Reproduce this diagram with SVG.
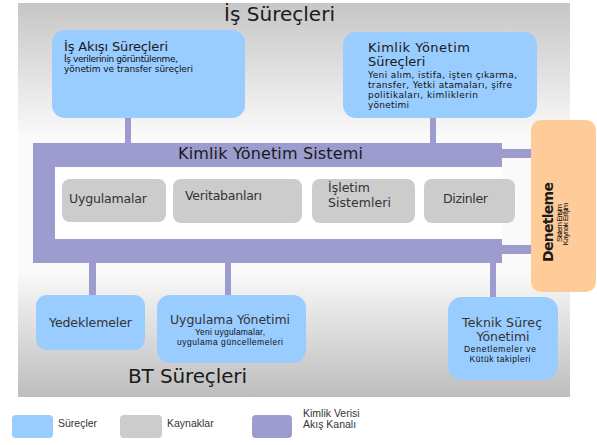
<svg xmlns="http://www.w3.org/2000/svg" width="597" height="445" viewBox="0 0 597 445">
<defs>
<linearGradient id="bg" x1="0" y1="0" x2="0" y2="1">
<stop offset="0" stop-color="#c6c6c6"/>
<stop offset="0.34" stop-color="#fafafa"/>
<stop offset="0.68" stop-color="#fafafa"/>
<stop offset="1" stop-color="#bdbdbd"/>
</linearGradient>
<style>
.proc{fill:#99ccff}
.res{fill:#cccccc}
.chan{fill:#9c9ccf}
.aud{fill:#ffcc99}
text{font-family:"DejaVu Sans",Verdana,sans-serif;fill:#1a1a1a}
.big{font-size:20px}
.t13{font-size:13px}
.t12{font-size:12.5px;fill:#333}
.sub{font-size:9px;fill:#111}
.leg{font-family:"Liberation Sans",Arial,sans-serif;font-size:10.5px;fill:#333}
.lsub{font-family:"Liberation Sans",Arial,sans-serif;font-size:8.5px;fill:#111}
.tiny{font-family:"Liberation Sans",Arial,sans-serif;font-size:8px;fill:#111}
</style>
</defs>
<rect x="18" y="3" width="552" height="394" fill="url(#bg)"/>
<text class="big" x="224" y="21" textLength="111">İş Süreçleri</text>
<text class="big" x="128" y="383" textLength="119">BT Süreçleri</text>

<g id="connectors">
<rect class="chan" x="125" y="116" width="6" height="28"/>
<rect class="chan" x="430" y="116" width="6" height="28"/>
<rect class="chan" x="103" y="166" width="6" height="14"/>
<rect class="chan" x="460" y="166" width="6" height="14"/>
<rect class="chan" x="233" y="222" width="7" height="18"/>
<rect class="chan" x="364" y="222" width="6" height="18"/>
<rect class="chan" x="501" y="149" width="31" height="9"/>
<rect class="chan" x="501" y="245" width="31" height="9"/>
<rect class="chan" x="89" y="262" width="7" height="34"/>
<rect class="chan" x="225" y="262" width="6" height="34"/>
<rect class="chan" x="490" y="262" width="6" height="36"/>
</g>

<g id="kimlik-yonetim-sistemi">
<path class="chan" d="M33,143 H502 V167 H55 V239 H502 V263 H33 Z"/>
<rect x="55" y="167" width="447" height="72" fill="#ffffff"/>
<text x="178" y="159" font-size="16px" textLength="185">Kimlik Yönetim Sistemi</text>
</g>

<g id="is-akisi">
<rect class="proc" x="52" y="30" width="193" height="88" rx="13"/>
<text class="t13" x="64" y="51" textLength="104">İş Akışı Süreçleri</text>
<text class="sub" x="64" y="62" textLength="114">İş verilerinin görüntülenme,</text>
<text class="sub" x="64" y="72" textLength="129">yönetim ve transfer süreçleri</text>
</g>

<g id="kimlik-yonetim-surecleri">
<rect class="proc" x="343" y="32" width="194" height="86" rx="13"/>
<text class="t13" x="368" y="52" textLength="102">Kimlik Yönetim</text>
<text class="t13" x="368" y="65.5">Süreçleri</text>
<text class="sub" x="368" y="78" textLength="149">Yeni alım, istifa, işten çıkarma,</text>
<text class="sub" x="368" y="88" textLength="144">transfer, Yetki atamaları, şifre</text>
<text class="sub" x="368" y="98" textLength="110">politikaları, kimliklerin</text>
<text class="sub" x="368" y="108" textLength="41">yönetimi</text>
</g>

<g id="uygulamalar">
<rect class="res" x="62" y="179" width="104" height="43" rx="8"/>
<text class="t12" x="69" y="203" textLength="78">Uygulamalar</text>
</g>
<g id="veritabanlari">
<rect class="res" x="173" y="179" width="129" height="44" rx="8"/>
<text class="t12" x="185" y="200" textLength="77">Veritabanları</text>
</g>
<g id="isletim-sistemleri">
<rect class="res" x="312" y="179" width="103" height="44" rx="8"/>
<text class="t12" x="328" y="192">İşletim</text>
<text class="t12" x="328" y="207" textLength="63">Sistemleri</text>
</g>
<g id="dizinler">
<rect class="res" x="424" y="179" width="91" height="44" rx="8"/>
<text class="t12" x="443" y="203" textLength="45">Dizinler</text>
</g>

<g id="denetleme">
<rect class="aud" x="531" y="120" width="65" height="172" rx="10"/>
<text x="553" y="222" font-size="14px" font-weight="bold" text-anchor="middle" transform="rotate(-90 553 222)" textLength="80">Denetleme</text>
<text class="tiny" x="561.5" y="223" text-anchor="middle" transform="rotate(-90 561.5 223)" textLength="38">Sistem Erişim</text>
<text class="tiny" x="568" y="224" text-anchor="middle" transform="rotate(-90 568 224)" textLength="43">Kaynak Erişim</text>
</g>

<g id="yedeklemeler">
<rect class="proc" x="36" y="295" width="109" height="55" rx="11"/>
<text class="t12" x="49" y="327" textLength="83">Yedeklemeler</text>
</g>

<g id="uygulama-yonetimi">
<rect class="proc" x="157" y="295" width="149" height="68" rx="13"/>
<text class="t12" x="170" y="324" textLength="120">Uygulama Yönetimi</text>
<text class="lsub" x="230" y="335" text-anchor="middle" textLength="70">Yeni uygulamalar,</text>
<text class="lsub" x="230" y="345" text-anchor="middle" textLength="106">uygulama güncellemeleri</text>
</g>

<g id="teknik-surec">
<rect class="proc" x="448" y="297" width="110" height="83" rx="14"/>
<text class="t12" x="462" y="327" textLength="80">Teknik Süreç</text>
<text class="t12" x="503" y="341" text-anchor="middle" textLength="53">Yönetimi</text>
<text class="lsub" x="500" y="352" text-anchor="middle" textLength="72">Denetlemeler ve</text>
<text class="lsub" x="500" y="362" text-anchor="middle" textLength="61">Kütük takipleri</text>
</g>

<g id="legend">
<rect class="proc" x="12" y="415" width="41" height="23" rx="4"/>
<text class="leg" x="58" y="427">Süreçler</text>
<rect class="res" x="120" y="415" width="42" height="23" rx="4"/>
<text class="leg" x="167" y="427">Kaynaklar</text>
<rect class="chan" x="252" y="415" width="40" height="23" rx="4"/>
<text class="leg" x="303" y="417">Kimlik Verisi</text>
<text class="leg" x="303" y="428">Akış Kanalı</text>
</g>
</svg>
